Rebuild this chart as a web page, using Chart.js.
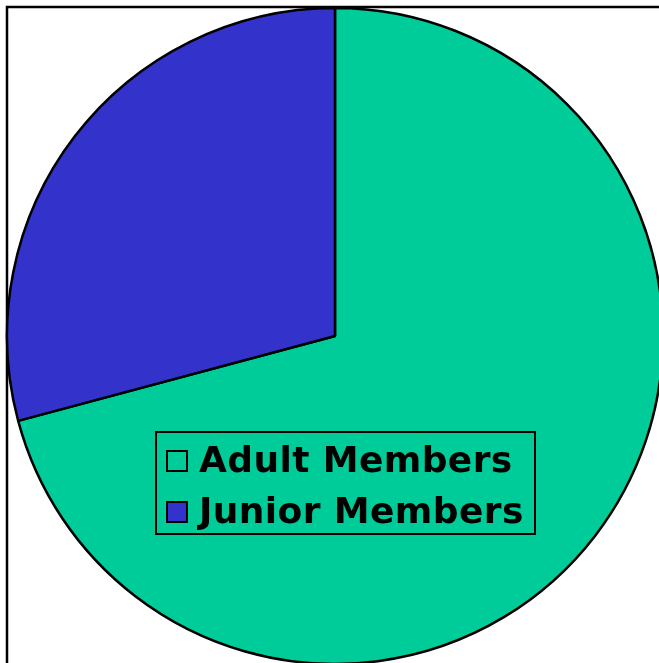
<!DOCTYPE html>
<html lang="en">
<head>
  <meta charset="UTF-8">
  <title>Membership</title>
  <script src="https://cdn.jsdelivr.net/npm/chart.js"></script>
  <style>
    html, body { margin: 0; padding: 0; background: #fff; overflow: hidden; }
    canvas { display: block; }
  </style>
</head>
<body>
  <canvas id="membersChart" width="659" height="663"></canvas>
  <script>
    const categories = ['Adult Members', 'Junior Members'];
    const members = [1700, 700];
    const sliceColors = ['#00CC99', '#3333CC'];

    // thin frame along the top and left edge of the plot
    const framePlugin = {
      id: 'frame',
      beforeDraw(chart) {
        const ctx = chart.ctx;
        ctx.save();
        ctx.strokeStyle = '#000';
        ctx.lineWidth = 2.5;
        ctx.beginPath();
        ctx.moveTo(7, chart.height);
        ctx.lineTo(7, 7);
        ctx.lineTo(chart.width, 7);
        ctx.stroke();
        ctx.restore();
      }
    };

    // boxed legend drawn over the pie
    const boxLegend = {
      id: 'boxLegend',
      afterDraw(chart) {
        const ctx = chart.ctx;
        const colors = chart.data.datasets[0].backgroundColor;
        ctx.save();
        ctx.fillStyle = sliceColors[0];
        ctx.fillRect(156, 432, 379, 102);
        ctx.strokeStyle = '#000';
        ctx.lineWidth = 2;
        ctx.strokeRect(156, 432, 379, 102);

        ctx.font = 'bold 36px "DejaVu Sans", Verdana, sans-serif';
        ctx.letterSpacing = '0.4px';
        ctx.textBaseline = 'alphabetic';
        chart.data.labels.forEach((label, i) => {
          const base = 472 + i * 51;
          ctx.fillStyle = colors[i];
          ctx.fillRect(167, base - 21, 20, 20);
          ctx.lineWidth = 2;
          ctx.strokeStyle = '#000';
          ctx.strokeRect(167, base - 21, 20, 20);
          ctx.fillStyle = '#000';
          ctx.fillText(label, 199, base);
        });
        ctx.restore();
      }
    };

    new Chart(document.getElementById('membersChart'), {
      type: 'pie',
      data: {
        labels: categories,
        datasets: [{
          data: members,
          backgroundColor: sliceColors,
          borderColor: '#000',
          borderWidth: 2.5,
          clip: false
        }]
      },
      options: {
        responsive: false,
        animation: false,
        events: [],
        radius: 328,
        layout: { padding: { left: 11, top: 9, right: 0, bottom: 0 } },
        plugins: {
          legend: { display: false },
          tooltip: { enabled: false }
        }
      },
      plugins: [framePlugin, boxLegend]
    });
  </script>
</body>
</html>
